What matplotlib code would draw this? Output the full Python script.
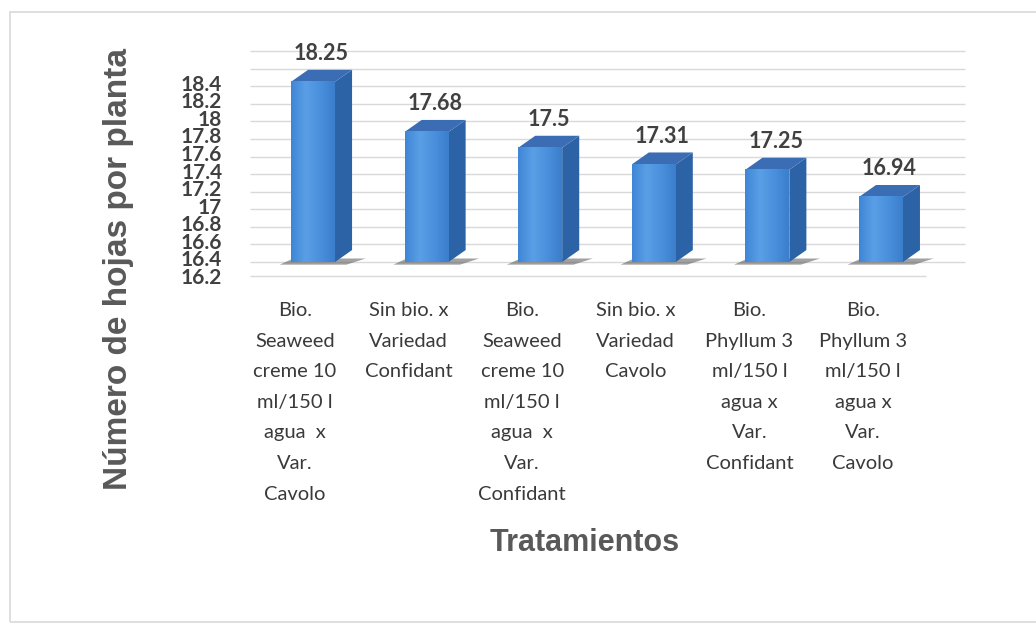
import numpy as np
import matplotlib
matplotlib.use("Agg")
import matplotlib.pyplot as plt
from matplotlib.patches import Polygon, Rectangle
from matplotlib.colors import LinearSegmentedColormap
from matplotlib.transforms import ScaledTranslation

# -----------------------------
# Data
# -----------------------------
tratamientos = [
    "Bio.\nSeaweed\ncreme 10\nml/150 l\nagua  x\nVar.\nCavolo",
    "Sin bio. x\nVariedad\nConfidant",
    "Bio.\nSeaweed\ncreme 10\nml/150 l\nagua  x\nVar.\nConfidant",
    "Sin bio. x\nVariedad\nCavolo",
    "Bio.\nPhyllum 3\nml/150 l\nagua x\nVar.\nConfidant",
    "Bio.\nPhyllum 3\nml/150 l\nagua x\nVar.\nCavolo",
]
hojas = [18.25, 17.68, 17.5, 17.31, 17.25, 16.94]
y_ticks = [16.2, 16.4, 16.6, 16.8, 17.0, 17.2, 17.4, 17.6, 17.8, 18.0, 18.2, 18.4]
y_tick_labels = ["16.2", "16.4", "16.6", "16.8", "17", "17.2", "17.4",
                 "17.6", "17.8", "18", "18.2", "18.4"]
grid_levels = [16.2, 16.4, 16.6, 16.8, 17.0, 17.2, 17.4, 17.6, 17.8, 18.0, 18.2, 18.4, 18.6]

base = 16.2

# -----------------------------
# Figure
# -----------------------------
fig = plt.figure(figsize=(10.36, 6.30), dpi=100)
fig.patch.set_facecolor("white")

# light frame around the chart
fig.patches.append(Rectangle((10 / 1036, 1 - 622 / 630), 1.1, (622 - 12) / 630,
                             transform=fig.transFigure, fill=False,
                             edgecolor="#d9d9d9", lw=1.2))

ax = fig.add_axes([250 / 1036, 1 - 284 / 630, 715 / 1036, (284 - 51) / 630])
ax.set_xlim(-0.555, 5.74)
ax.set_ylim(15.95, 18.6)
for s in ax.spines.values():
    s.set_visible(False)

# back wall gridlines
ax.hlines(grid_levels, -0.555, 5.74, colors="#d9d9d9", lw=1.0, zorder=0, clip_on=False)
# front floor line
ax.hlines(base - 0.16, -0.555, 5.40, colors="#d9d9d9", lw=1.0, zorder=0)

x = np.arange(len(hojas))
w = 0.387
dx = 0.15
dy = 0.136

front_cmap = LinearSegmentedColormap.from_list("front", ["#3f86d6", "#5a9fe6", "#4a90dc", "#3b7fcc"])
grad = np.linspace(0, 1, 64).reshape(1, -1)

for xi, v in zip(x, hojas):
    # base shadow
    ax.add_patch(Polygon([(xi - w / 2 - 0.1, base - 0.03), (xi + w / 2 + 0.1, base - 0.03),
                          (xi + w / 2 + dx + 0.12, base + 0.04), (xi - w / 2 + 0.02, base + 0.04)],
                         closed=True, facecolor="#555555", alpha=0.55, lw=0, zorder=1))
    # front face
    ax.bar(xi, v - base, bottom=base, width=w, color="#4a90dc", lw=0, zorder=2)
    ax.imshow(grad, cmap=front_cmap, aspect="auto", zorder=2.1,
              extent=(xi - w / 2, xi + w / 2, base, v))
    # side face
    ax.add_patch(Polygon([(xi + w / 2, base), (xi + w / 2 + dx, base + dy),
                          (xi + w / 2 + dx, v + dy), (xi + w / 2, v)],
                         closed=True, facecolor="#2c62a6", lw=0, zorder=2))
    # top face
    ax.add_patch(Polygon([(xi - w / 2, v), (xi + w / 2, v),
                          (xi + w / 2 + dx, v + dy), (xi - w / 2 + dx, v + dy)],
                         closed=True, facecolor="#3a6db3", lw=0, zorder=2))
    # value label
    ax.annotate(f"{v:g}", xy=(xi + dx / 2, v + dy), xytext=(0, 4), textcoords="offset points",
                ha="center", va="bottom", fontsize=15.5, fontweight="bold",
                family="Lato", color="#404040", zorder=5)

ax.set_xlim(-0.555, 5.74)
ax.set_ylim(15.95, 18.6)

# y ticks (shifted to the front floor)
ax.set_yticks(y_ticks)
ax.set_yticklabels(y_tick_labels, fontsize=15, fontweight="bold", family="Lato", color="#404040")
ax.tick_params(axis="y", length=0, pad=20)
for lbl in ax.get_yticklabels():
    lbl.set_transform(lbl.get_transform() + ScaledTranslation(0, -14 / 100, fig.dpi_scale_trans))

# x ticks
ax.set_xticks(x)
ax.set_xticklabels(tratamientos, fontsize=14.5, family="Lato", color="#3a3a3a", linespacing=1.97)
ax.tick_params(axis="x", length=0, pad=13)
for lbl in ax.get_xticklabels():
    lbl.set_transform(lbl.get_transform() + ScaledTranslation(-18 / 100, 0, fig.dpi_scale_trans))

# axis titles
fig.text(118 / 1036, 1 - 269 / 630, "Número de hojas por planta", rotation=90,
         ha="center", va="center", fontsize=24, fontweight="bold",
         family="Liberation Sans", color="#595959")
fig.text(585 / 1036, 1 - 543 / 630, "Tratamientos", ha="center", va="center",
         fontsize=22, fontweight="bold", family="Liberation Sans", color="#595959")

fig.savefig("out.png", dpi=100)
